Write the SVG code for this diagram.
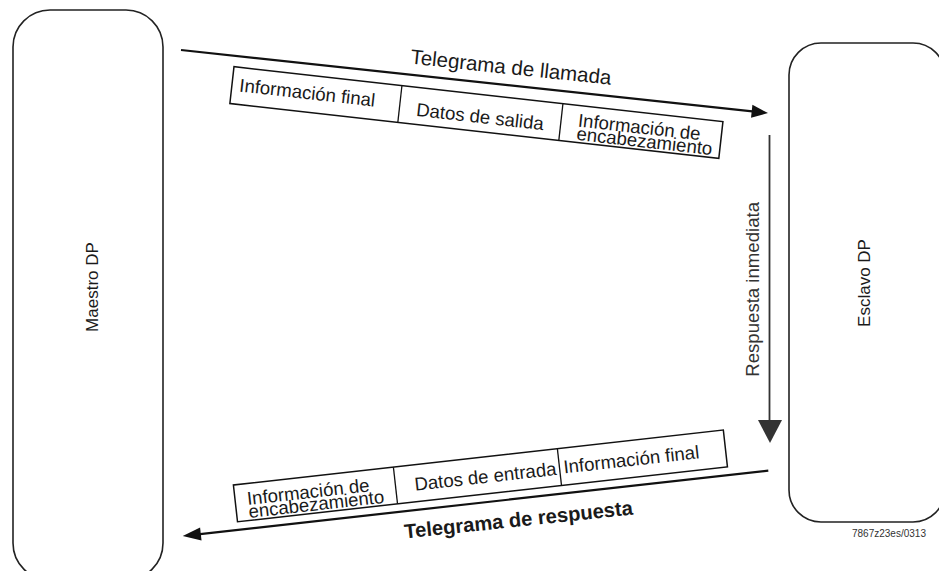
<svg xmlns="http://www.w3.org/2000/svg" width="939" height="571" viewBox="0 0 939 571">
<style>
text{font-family:"Liberation Sans",Arial,sans-serif;fill:#1a1a1a}
.node{fill:#fff;stroke:#222;stroke-width:1.6}
.cell{fill:#fff;stroke:#111;stroke-width:1.5}
.div{stroke:#111;stroke-width:1.3}
.t18{font-size:18.6px}
.t17{font-size:17px}
.ar{stroke:#111;stroke-width:2.2;fill:none}
.ah{fill:#111}
</style>
<rect width="939" height="571" fill="#fff"/>
<g id="maestro">
<rect class="node" x="13" y="10" width="150" height="570" rx="37" ry="37"/>
<text class="t17" transform="translate(98,287) rotate(-90)" text-anchor="middle">Maestro DP</text>
</g>
<g id="esclavo">
<rect class="node" x="789" y="43" width="156" height="479" rx="32" ry="32"/>
<text class="t17" transform="translate(870,283) rotate(-90)" text-anchor="middle">Esclavo DP</text>
</g>
<g id="telegrama-llamada" transform="translate(234,66.7) rotate(6.4)">
<rect class="cell" x="0" y="0" width="492" height="37"/>
<line class="div" x1="169" y1="0" x2="169" y2="37"/>
<line class="div" x1="331" y1="0" x2="331" y2="37"/>
<text class="t18" x="7.5" y="24">Información final</text>
<text class="t18" x="186" y="28.6">Datos de salida</text>
<text class="t18" x="348" y="21.2">Información de</text>
<text class="t18" x="348" y="34.6">encabezamiento</text>
</g>
<g id="telegrama-respuesta" transform="translate(233.4,485) rotate(-6.4)">
<rect class="cell" x="0" y="0" width="493" height="37"/>
<line class="div" x1="161" y1="0" x2="161" y2="37"/>
<line class="div" x1="326" y1="0" x2="326" y2="37"/>
<text class="t18" x="12" y="21.5">Información de</text>
<text class="t18" x="12" y="34.5">encabezamiento</text>
<text class="t18" x="180" y="26">Datos de entrada</text>
<text class="t18" x="330" y="25.4">Información final</text>
</g>
<g id="connectors">
<g transform="translate(181,50) rotate(6.13)">
<line class="ar" x1="0" y1="0" x2="577" y2="0"/>
<polygon class="ah" points="574,-6.5 590.4,0 574,6.5"/>
</g>
<g transform="translate(768.3,470.7) rotate(173.64)">
<line class="ar" x1="0" y1="0" x2="574" y2="0"/>
<polygon class="ah" points="571,-6.5 589.2,0 571,6.5"/>
</g>
<line x1="769.5" y1="135" x2="769.5" y2="422" stroke="#333" stroke-width="1.8"/>
<polygon points="758,420 782,420 770,443" fill="#333"/>
<text style="font-size:20.5px" transform="translate(410,63.6) rotate(6)">Telegrama de llamada</text>
<text style="font-size:20.2px;font-weight:bold" transform="translate(405,538.5) rotate(-6)">Telegrama de respuesta</text>
<text class="t18" style="fill:#333" transform="translate(759,376.7) rotate(-90)">Respuesta inmediata</text>
</g>
<text x="852" y="537" style="font-size:10px;fill:#333">7867z23es/0313</text>
</svg>
